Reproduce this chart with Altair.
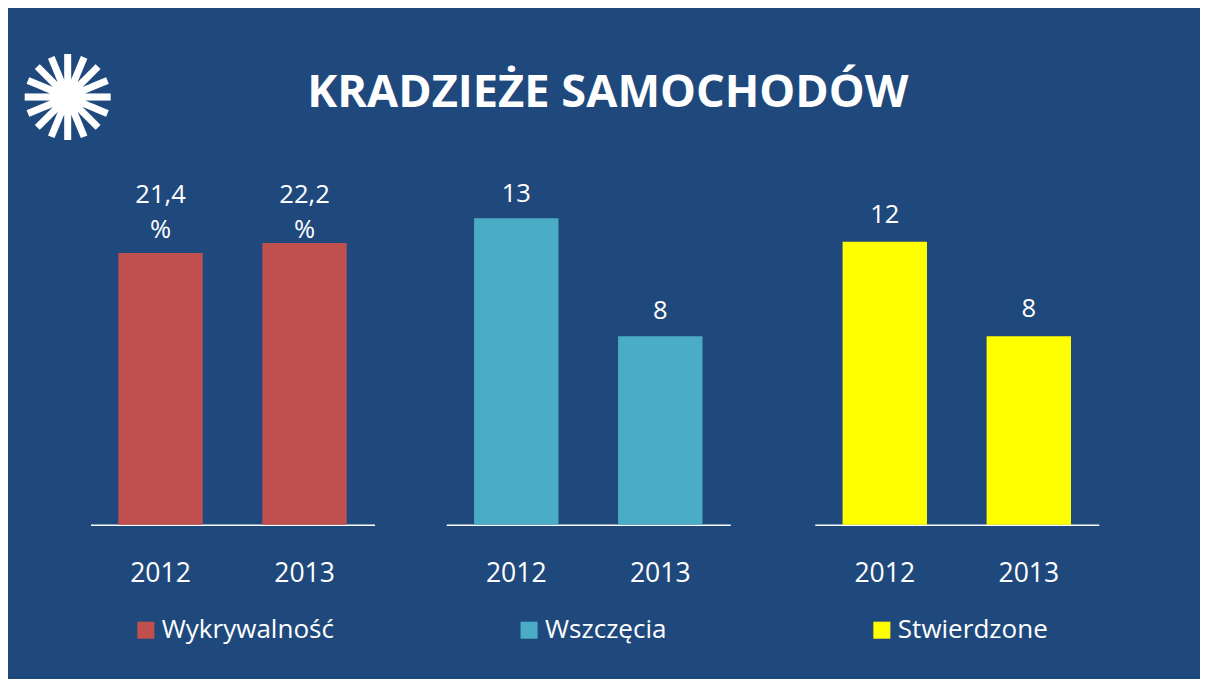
import altair as alt
import pandas as pd

# ---- data ----
years = ["2012", "2013"]
series_names = ["Wykrywalność", "Wszczęcia", "Stwierdzone"]
wykrywalnosc = [21.4, 22.2]          # %
wszczecia = [13, 8]
stwierdzone = [12, 8]
labels_wykr = ["21,4\n%", "22,2\n%"]
labels_wszcz = ["13", "8"]
labels_stw = ["12", "8"]
title_text = "KRADZIEŻE SAMOCHODÓW"

BG = "#1F497D"
FONT = "Open Sans"
colors = ["#C0504D", "#4BACC6", "#FFFF00"]


def panel(name, values, labels, color, ymax, label_at_max, legend_x, label_dy, logo=False):
    df = pd.DataFrame({"rok": years, "wartosc": values, "etykieta": labels, "seria": [name] * len(years)})
    xenc = alt.X(
        "rok:N",
        title=None,
        scale=alt.Scale(paddingInner=0.414, paddingOuter=0.193),
        axis=alt.Axis(labelAngle=0, ticks=False, domainColor="white", domainWidth=1.5,
                      labelColor="white", labelFont=FONT, labelFontSize=27, labelPadding=37,
                      grid=False),
    )
    yscale = alt.Scale(domain=[0, ymax], nice=False, zero=True)
    bars = alt.Chart(df).mark_bar(strokeWidth=0).encode(
        x=xenc,
        y=alt.Y("wartosc:Q", axis=None, scale=yscale),
        color=alt.Color(
            "seria:N",
            scale=alt.Scale(domain=[name], range=[color]),
            legend=alt.Legend(title=None, orient="none", legendX=legend_x, legendY=430,
                              symbolType="square", symbolSize=300, symbolStrokeWidth=0,
                              symbolOpacity=1, padding=0,
                              labelColor="white", labelFont=FONT, labelFontSize=26.5,
                              labelOffset=3, labelLimit=400),
        ),
    )
    txt_base = alt.Chart(df)
    if label_at_max:
        txt_base = txt_base.transform_joinaggregate(maxv="max(wartosc)")
        yfield = "maxv:Q"
    else:
        yfield = "wartosc:Q"
    texts = txt_base.mark_text(
        baseline="bottom", align="center", dy=label_dy, font=FONT, fontSize=26,
        color="white", lineBreak="\n", lineHeight=36,
    ).encode(x=xenc, y=alt.Y(yfield, axis=None, scale=yscale), text="etykieta:N")
    layers = [bars, texts]
    if logo:
        logo_mark = alt.Chart(df.head(1)).mark_text(
            text="✺", font="DejaVu Sans", fontSize=120, color="white",
            baseline="middle", align="center",
        ).encode(x=alt.value(-23), y=alt.value(-92))
        layers.append(logo_mark)
    return alt.layer(*layers).properties(width=289, height=336)


p1 = panel(series_names[0], wykrywalnosc, labels_wykr, colors[0], 26, True, 43, -36, logo=True)
p2 = panel(series_names[1], wszczecia, labels_wszcz, colors[1], 14, False, 71, -12)
p3 = panel(series_names[2], stwierdzone, labels_stw, colors[2], 14, False, 55, -14)

left = alt.hconcat(p1, p2, spacing=73).resolve_scale(y="independent", color="independent", x="independent")
chart = (
    alt.hconcat(left, p3, spacing=86)
    .resolve_scale(y="independent", color="independent", x="independent")
    .properties(
        title=alt.TitleParams(text=title_text, font=FONT, fontSize=46, fontWeight="bold",
                              color="white", anchor="middle", offset=-12, dy=61, dx=50),
        background=BG,
        padding={"left": 10, "right": 103, "top": 32, "bottom": 30},
    )
    .configure_view(stroke=None)
)

chart.save("out.html", embed_options={"renderer": "svg", "actions": False})
